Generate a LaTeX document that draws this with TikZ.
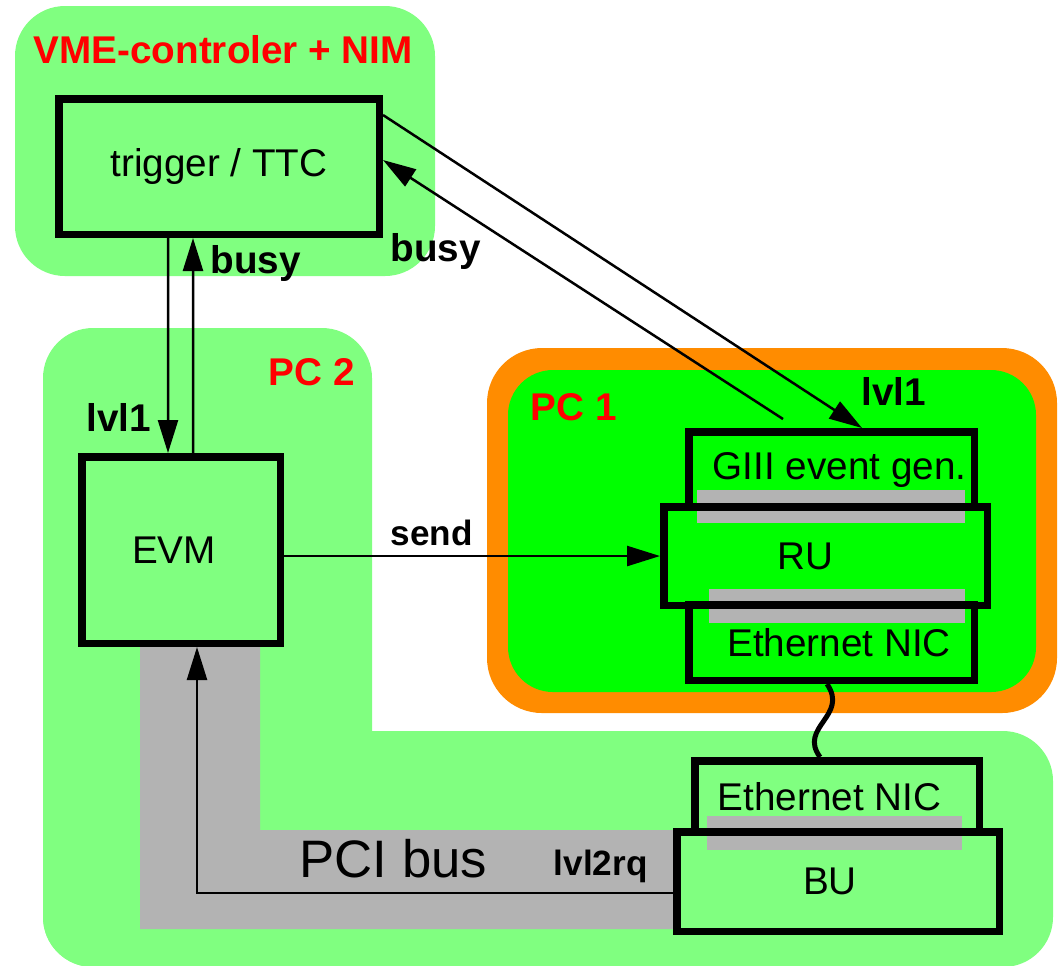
\documentclass[tikz,border=0pt]{standalone}
\usepackage{fontspec}
\setmainfont{Liberation Sans}
\usepackage{tikz}
\usetikzlibrary{arrows.meta,calc}
\definecolor{pclight}{HTML}{80FF80}
\definecolor{pcgreen}{HTML}{00FF00}
\definecolor{pcorange}{HTML}{FF8C00}
\definecolor{busgray}{HTML}{B3B3B3}
\tikzset{
  unitbox/.style={draw, line width=0.75mm, inner sep=0pt, font=\fontsize{11pt}{13pt}\selectfont},
  sigarrow/.style={-{Triangle[length=3.3mm,width=2mm]}, line width=0.25mm},
  siglabel/.style={anchor=base west, inner sep=0pt, font=\fontsize{11pt}{13pt}\selectfont\bfseries},
  zonetitle/.style={siglabel, text=red},
}

\begin{document}
\begin{tikzpicture}[x=0.1mm, y=-0.1mm, slab/.style={fill=busgray}]
  \useasboundingbox (0,0) rectangle (1062,965);
  \fill[pclight, rounded corners=5mm] (15,6) rectangle (435,276);
  \fill[pclight, rounded corners=5mm] (43,328) rectangle (372,967);
  \fill[pclight, rounded corners=5mm] (43,731) rectangle (1053,967);
  \fill[pcorange, rounded corners=5.5mm] (487,348) rectangle (1057,713);
  \fill[pcgreen, rounded corners=4.5mm] (508,370) rectangle (1036,692);
  \fill[slab] (140,647) -- (260,647) -- (260,830) -- (673,830) -- (673,929) -- (140,929) -- cycle;
  \fill[slab] (697,490) rectangle (965,523);
  \fill[slab] (709,589) rectangle (965,623);
  \fill[slab] (707,816) rectangle (962,850);
  \node[unitbox, minimum width=32.05mm, minimum height=13.55mm] (trig) at (219,166.5) {trigger / TTC};
  \node[unitbox, minimum width=19.85mm, minimum height=18.65mm] (evm) at (181,550) {EVM\hspace*{1.4mm}};
  \node[unitbox, minimum width=28.55mm, minimum height=7.55mm] (giii) at (831.5,469.5) {\hspace*{1.6mm}GIII event gen.};
  \node[unitbox, minimum width=28.55mm, minimum height=7.55mm] (nica) at (831.5,642.5) {\hspace*{1.5mm}Ethernet NIC};
  \node[unitbox, minimum width=32.35mm, minimum height=9.85mm] (ru) at (825.5,556) {RU\hspace*{4mm}};
  \node[unitbox, minimum width=28.45mm, minimum height=7.15mm] (nicb) at (837,796.5) {Ethernet NIC\hspace*{1.5mm}};
  \node[unitbox, minimum width=32.25mm, minimum height=9.95mm] (bu) at (838,881.5) {BU\hspace*{1.6mm}};
  \node[zonetitle] (vmetitle) at (33,63) {VME-controler + NIM};
  \node[zonetitle] (pctwotitle) at (268,385) {PC 2};
  \node[zonetitle] (pconetitle) at (530,420) {PC 1};
  \node[siglabel] (busyleft) at (210,273) {busy};
  \node[siglabel] (busyright) at (390,261) {busy};
  \node[siglabel] (lvlleft) at (86,431) {lvl1};
  \node[siglabel] (lvlright) at (861,405) {lvl1};
  \node[siglabel, font=\fontsize{10pt}{12pt}\selectfont\bfseries] (sendlbl) at (390,545) {send};
  \node[anchor=base west, inner sep=0pt, font=\fontsize{15pt}{18pt}\selectfont] (pcibus) at (299,877) {PCI bus};
  \node[siglabel, font=\fontsize{10pt}{12pt}\selectfont\bfseries] (lvltworq) at (553,875) {lvl2rq};
  \coordinate (busyend) at (783,419);
  \draw[sigarrow] ([xshift=-5.1mm]trig.south) -- ([xshift=-1.3mm]evm.north);
  \draw[sigarrow] ([xshift=1.2mm]evm.north) -- ([xshift=-2.6mm]trig.south);
  \draw[sigarrow] (evm.east |- ru.west) -- (ru.west);
  \draw[sigarrow] ([yshift=-1.15mm]bu.west) -| ([xshift=1.6mm]evm.south);
  \draw[sigarrow] ([yshift=5.15mm]trig.east) -- ([xshift=3.05mm]giii.north);
  \draw[sigarrow] (busyend) -- ([yshift=0.65mm]trig.east);
  \draw[line width=0.5mm] ([xshift=-0.45mm]nica.south) .. controls +(22,32) and +(-22,-30) .. ([xshift=-1.7mm]nicb.north);
\end{tikzpicture}
\end{document}
